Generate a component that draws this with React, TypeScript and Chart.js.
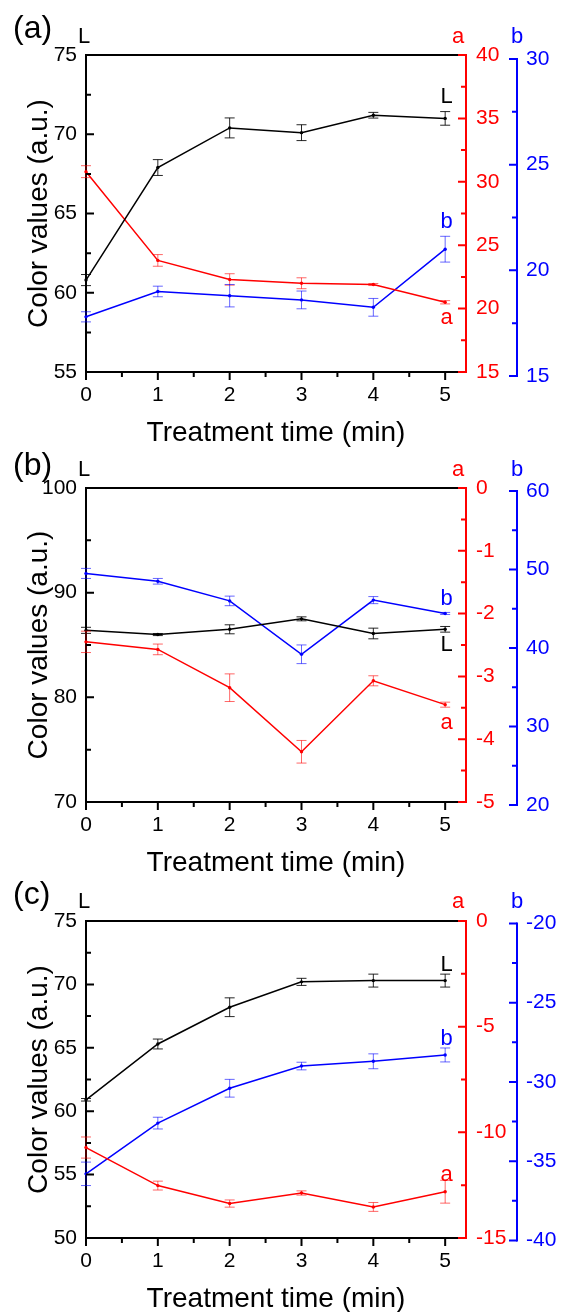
import React, { useEffect, useRef } from "react";
import { Chart, registerables } from "chart.js";

Chart.register(...registerables);

const FONT = "'Liberation Sans', Arial, Helvetica, sans-serif";
Chart.defaults.font.family = FONT;

// ---------- data ----------
const times = [0, 1, 2, 3, 4, 5];

// Panel (a)
const aL = [60.8, 67.9, 70.4, 70.1, 71.2, 71.0];
const aLErr = [0.35, 0.5, 0.63, 0.5, 0.18, 0.43];
const aA = [30.8, 23.8, 22.3, 22.0, 21.9, 20.5];
const aAErr = [0.47, 0.46, 0.45, 0.43, 0.08, 0.13];
const aB = [17.8, 19.0, 18.8, 18.6, 18.25, 21.0];
const aBErr = [0.24, 0.25, 0.53, 0.42, 0.42, 0.61];

// Panel (b)
const bL = [86.4, 86.0, 86.5, 87.5, 86.1, 86.5];
const bLErr = [0.29, 0.1, 0.43, 0.19, 0.51, 0.27];
const bA = [-2.45, -2.57, -3.18, -4.2, -3.07, -3.45];
const bAErr = [0.17, 0.085, 0.22, 0.18, 0.08, 0.04];
const bB = [49.5, 48.5, 46.0, 39.2, 46.1, 44.4];
const bBErr = [0.64, 0.36, 0.61, 1.19, 0.45, 0.13];

// Panel (c)
const cL = [60.9, 65.3, 68.2, 70.2, 70.3, 70.3];
const cLErr = [0.1, 0.39, 0.74, 0.28, 0.51, 0.51];
const cA = [-10.72, -12.52, -13.37, -12.87, -13.53, -12.81];
const cAErr = [0.5, 0.21, 0.17, 0.1, 0.21, 0.54];
const cB = [-35.8, -32.6, -30.4, -29.0, -28.7, -28.3];
const cBErr = [0.74, 0.37, 0.56, 0.24, 0.47, 0.44];

// axis ranges [min, max, step]
const aLAxis = [55, 75, 5];
const aAAxis = [15, 40, 5];
const aBAxis = [15, 30, 5];
const bLAxis = [70, 100, 10];
const bAAxis = [-5, 0, 1];
const bBAxis = [20, 60, 10];
const cLAxis = [50, 75, 5];
const cAAxis = [-15, 0, 5];
const cBAxis = [-40, -20, 5];

const X_MAX = 5.29;
const X_TITLE = "Treatment time (min)";
const Y_TITLE = "Color values (a.u.)";

// ---------- styles ----------
const BLACK = "#000000";
const RED = "#ff0000";
const BLUE = "#0000ff";
const ERR_BLACK = "rgba(0,0,0,0.85)";
const ERR_RED = "rgba(255,0,0,0.6)";
const ERR_BLUE = "rgba(0,0,255,0.6)";

type Series = { values: number[]; errors: number[]; axis: number[] };
type PanelSpec = {
  tag: string;
  top: number;
  height: number;
  padTop: number;
  xHeight: number;
  L: Series;
  a: Series;
  b: Series;
  blueShift: number;
  tagBaseline: number;
  headBaseline: number;
  labelDy: { L: number; a: number; b: number };
};

const panels: PanelSpec[] = [
  {
    tag: "(a)",
    top: 0,
    height: 452,
    padTop: 55,
    xHeight: 80,
    L: { values: aL, errors: aLErr, axis: aLAxis },
    a: { values: aA, errors: aAErr, axis: aAAxis },
    b: { values: aB, errors: aBErr, axis: aBAxis },
    blueShift: 4,
    tagBaseline: 38,
    headBaseline: 42.5,
    labelDy: { L: -15, a: 22, b: -21 },
  },
  {
    tag: "(b)",
    top: 440,
    height: 442,
    padTop: 48,
    xHeight: 80,
    L: { values: bL, errors: bLErr, axis: bLAxis },
    a: { values: bA, errors: bAErr, axis: bAAxis },
    b: { values: bB, errors: bBErr, axis: bBAxis },
    blueShift: 3,
    tagBaseline: 35,
    headBaseline: 36,
    labelDy: { L: 22, a: 24, b: -8 },
  },
  {
    tag: "(c)",
    top: 870,
    height: 442,
    padTop: 51,
    xHeight: 74,
    L: { values: cL, errors: cLErr, axis: cLAxis },
    a: { values: cA, errors: cAErr, axis: cAAxis },
    b: { values: cB, errors: cBErr, axis: cBAxis },
    blueShift: 2.4,
    tagBaseline: 33.5,
    headBaseline: 38,
    labelDy: { L: -10, a: -11, b: -10 },
  },
];

const LEFT_W = 86;
const RED_W = 51;
const BLUE_W = 44;

function tickList(axis: number[]) {
  const out: number[] = [];
  const [mn, mx, st] = axis;
  for (let v = mn; v <= mx + 1e-9; v += st) out.push(Math.round(v * 1000) / 1000);
  return out;
}

function drawVTicks(ctx: CanvasRenderingContext2D, scale: any, vals: number[], x: number, dir: number, color: string) {
  ctx.strokeStyle = color;
  ctx.lineWidth = 2;
  ctx.beginPath();
  vals.forEach((v) => {
    const y = scale.getPixelForValue(v);
    ctx.moveTo(x, y);
    ctx.lineTo(x + dir * 8, y);
  });
  for (let i = 0; i < vals.length - 1; i++) {
    const y = scale.getPixelForValue((vals[i] + vals[i + 1]) / 2);
    ctx.moveTo(x, y);
    ctx.lineTo(x + dir * 5, y);
  }
  ctx.stroke();
}

function buildChart(canvas: HTMLCanvasElement, p: PanelSpec) {
  const plotH = p.height - p.xHeight - p.padTop;
  const bppu = plotH / (p.b.axis[1] - p.b.axis[0]);
  const bOff = p.blueShift / bppu;

  const mkDs = (label: string, s: Series, color: string, axisId: string) => ({
    label,
    data: times.map((t, i) => ({ x: t, y: s.values[i] })),
    borderColor: color,
    backgroundColor: color,
    borderWidth: 1.5,
    pointRadius: 1.7,
    pointHoverRadius: 1.7,
    pointBorderWidth: 0,
    tension: 0,
    yAxisID: axisId,
    clip: false as any,
  });

  const tickFont = { family: FONT, size: 21 };
  const titleFont = { family: FONT, size: 28, weight: "normal" as any };

  const decor = {
    id: "panelDecor",
    afterDatasetsDraw(chart: any) {
      const ctx: CanvasRenderingContext2D = chart.ctx;
      const xs = chart.scales.x;
      const items: [Series, string, string][] = [
        [p.L, "yL", ERR_BLACK],
        [p.a, "yA", ERR_RED],
        [p.b, "yB", ERR_BLUE],
      ];
      ctx.save();
      ctx.lineWidth = 1;
      for (const [s, id, col] of items) {
        const ys = chart.scales[id];
        ctx.strokeStyle = col;
        ctx.beginPath();
        s.values.forEach((v, i) => {
          const x = xs.getPixelForValue(times[i]);
          const y1 = ys.getPixelForValue(v + s.errors[i]);
          const y2 = ys.getPixelForValue(v - s.errors[i]);
          ctx.moveTo(x, y1);
          ctx.lineTo(x, y2);
          ctx.moveTo(x - 5, y1);
          ctx.lineTo(x + 5, y1);
          ctx.moveTo(x - 5, y2);
          ctx.lineTo(x + 5, y2);
        });
        ctx.stroke();
      }
      ctx.restore();
    },
    afterDraw(chart: any) {
      const ctx: CanvasRenderingContext2D = chart.ctx;
      const area = chart.chartArea;
      const xs = chart.scales.x;
      const yL = chart.scales.yL;
      const yA = chart.scales.yA;
      const yB = chart.scales.yB;
      ctx.save();
      // top frame line
      ctx.strokeStyle = BLACK;
      ctx.lineWidth = 2;
      ctx.beginPath();
      ctx.moveTo(area.left - 1, area.top);
      ctx.lineTo(area.right, area.top);
      ctx.stroke();
      // x ticks (outward)
      const xv = xs.ticks.map((t: any) => t.value);
      ctx.beginPath();
      xv.forEach((v: number) => {
        const x = xs.getPixelForValue(v);
        ctx.moveTo(x, area.bottom);
        ctx.lineTo(x, area.bottom + 8);
      });
      for (let i = 0; i < xv.length - 1; i++) {
        const x = xs.getPixelForValue((xv[i] + xv[i + 1]) / 2);
        ctx.moveTo(x, area.bottom);
        ctx.lineTo(x, area.bottom + 5);
      }
      ctx.stroke();
      // y ticks (inward)
      drawVTicks(ctx, yL, tickList(p.L.axis), area.left, 1, BLACK);
      drawVTicks(ctx, yA, tickList(p.a.axis), area.right, -1, RED);
      const bx = yB.left;
      const bt = tickList(p.b.axis);
      ctx.strokeStyle = BLUE;
      ctx.lineWidth = 2;
      ctx.beginPath();
      ctx.moveTo(bx, yB.getPixelForValue(bt[bt.length - 1]) - 1);
      ctx.lineTo(bx, yB.getPixelForValue(bt[0]) + 1);
      ctx.stroke();
      drawVTicks(ctx, yB, bt, bx, -1, BLUE);

      // texts
      ctx.textAlign = "left";
      ctx.textBaseline = "alphabetic";
      ctx.fillStyle = BLACK;
      ctx.font = `32px ${FONT}`;
      ctx.fillText(p.tag, 13, p.tagBaseline);
      ctx.font = `22px ${FONT}`;
      ctx.fillText("L", 78, p.headBaseline);
      ctx.fillStyle = RED;
      ctx.fillText("a", 452, p.headBaseline);
      ctx.fillStyle = BLUE;
      ctx.fillText("b", 511, p.headBaseline);

      ctx.textAlign = "center";
      const last = times.length - 1;
      const x5 = xs.getPixelForValue(times[last]) + 1.5;
      ctx.fillStyle = BLACK;
      ctx.fillText("L", x5, yL.getPixelForValue(p.L.values[last]) + p.labelDy.L);
      ctx.fillStyle = RED;
      ctx.fillText("a", x5, yA.getPixelForValue(p.a.values[last]) + p.labelDy.a);
      ctx.fillStyle = BLUE;
      ctx.fillText("b", x5, yB.getPixelForValue(p.b.values[last]) + p.labelDy.b);
      ctx.restore();
    },
  };

  const noGrid = { display: false, drawTicks: false };

  return new Chart(canvas, {
    type: "line",
    data: {
      datasets: [
        mkDs("L", p.L, BLACK, "yL"),
        mkDs("a", p.a, RED, "yA"),
        mkDs("b", p.b, BLUE, "yB"),
      ] as any,
    },
    options: {
      responsive: false,
      animation: false,
      devicePixelRatio: 1,
      events: [],
      layout: { padding: { top: p.padTop, left: 0, right: 0, bottom: 0 } },
      plugins: {
        legend: { display: false },
        tooltip: { enabled: false },
      },
      scales: {
        x: {
          type: "linear",
          position: "bottom",
          min: 0,
          max: X_MAX,
          grid: noGrid,
          border: { display: true, color: BLACK, width: 2 },
          ticks: {
            stepSize: 1,
            includeBounds: false,
            padding: 11,
            color: BLACK,
            font: tickFont,
            maxRotation: 0,
            autoSkip: false,
            callback: (v: any) => String(v),
          },
          title: {
            display: true,
            text: X_TITLE,
            color: BLACK,
            font: titleFont,
            padding: { top: 0, bottom: p.xHeight - 78.1 },
          },
          afterFit: (s: any) => {
            s.height = p.xHeight;
          },
        },
        yL: {
          type: "linear",
          position: "left",
          min: p.L.axis[0],
          max: p.L.axis[1],
          grid: noGrid,
          border: { display: true, color: BLACK, width: 2 },
          ticks: {
            stepSize: p.L.axis[2],
            includeBounds: false,
            padding: 9,
            color: BLACK,
            font: tickFont,
            autoSkip: false,
            callback: (v: any) => String(v),
          },
          title: {
            display: true,
            text: Y_TITLE,
            color: BLACK,
            font: titleFont,
            padding: { top: 22, bottom: 0 },
          },
          afterFit: (s: any) => {
            s.width = LEFT_W;
          },
        },
        yA: {
          type: "linear",
          position: "right",
          weight: 1,
          min: p.a.axis[0],
          max: p.a.axis[1],
          grid: noGrid,
          border: { display: true, color: RED, width: 2 },
          ticks: {
            stepSize: p.a.axis[2],
            includeBounds: false,
            padding: 10,
            color: RED,
            font: tickFont,
            autoSkip: false,
            callback: (v: any) => String(v),
          },
          afterFit: (s: any) => {
            s.width = RED_W;
          },
        },
        yB: {
          type: "linear",
          position: "right",
          weight: 2,
          bounds: "data",
          min: p.b.axis[0] + bOff,
          max: p.b.axis[1] + bOff,
          grid: noGrid,
          border: { display: false },
          ticks: {
            padding: 9,
            color: BLUE,
            font: tickFont,
            autoSkip: false,
            callback: (v: any) => String(v),
          },
          afterBuildTicks: (s: any) => {
            s.ticks = tickList(p.b.axis).map((v) => ({ value: v }));
          },
          afterFit: (s: any) => {
            s.width = BLUE_W;
          },
        },
      },
    } as any,
    plugins: [decor as any],
  });
}

function Panel({ spec }: { spec: PanelSpec }) {
  const ref = useRef<HTMLCanvasElement | null>(null);
  useEffect(() => {
    if (!ref.current) return;
    const chart = buildChart(ref.current, spec);
    return () => chart.destroy();
  }, [spec]);
  return (
    <canvas
      ref={ref}
      width={561}
      height={spec.height}
      style={{ position: "absolute", left: 0, top: spec.top, width: 561, height: spec.height, display: "block" }}
    />
  );
}

export default function App() {
  return (
    <div
      style={{
        position: "absolute",
        left: 0,
        top: 0,
        width: 561,
        height: 1312,
        overflow: "hidden",
        background: "#ffffff",
      }}
    >
      {panels.map((p) => (
        <Panel key={p.tag} spec={p} />
      ))}
    </div>
  );
}
